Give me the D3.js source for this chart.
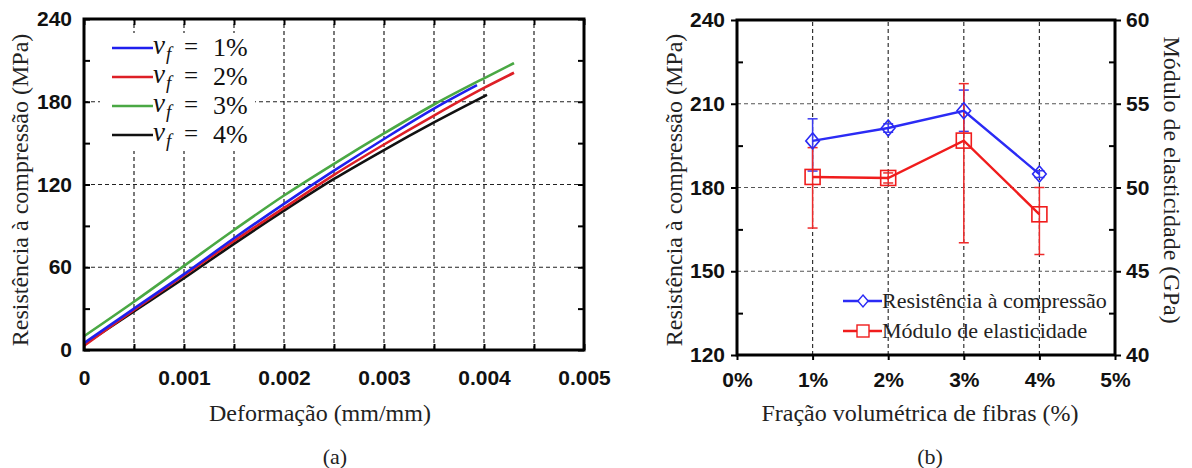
<!DOCTYPE html>
<html>
<head>
<meta charset="utf-8">
<script src="https://cdn.jsdelivr.net/npm/d3@7"></script>
<style>
  body { margin: 0; background: #fff; }
  .tick text { font-family: "Liberation Sans", Arial, sans-serif; font-weight: bold; font-size: 21px; fill: #111; }
  .title { font-family: "Liberation Serif", "Times New Roman", serif; font-size: 24px; fill: #222; }
</style>
</head>
<body>
<script>
// ---------------- data: panel (a) stress-strain curves ----------------
const seriesNames = ["1%", "2%", "3%", "4%"];
const strainVf1 = [0, 0.0005, 0.001, 0.0015, 0.002, 0.0025, 0.003, 0.0035, 0.00393];
const stressVf1 = [5, 30, 55, 81, 106, 130, 153, 175, 192];
const strainVf2 = [0, 0.0005, 0.001, 0.0015, 0.002, 0.0025, 0.003, 0.0035, 0.004, 0.0043];
const stressVf2 = [3, 29, 54, 79, 103, 127, 149, 170, 190, 201];
const strainVf3 = [0, 0.0005, 0.001, 0.0015, 0.002, 0.0025, 0.003, 0.0035, 0.004, 0.0043];
const stressVf3 = [10, 35, 61, 87, 112, 135, 157, 178, 197, 208];
const strainVf4 = [0, 0.0005, 0.001, 0.0015, 0.002, 0.0025, 0.003, 0.0035, 0.00403];
const stressVf4 = [4, 28, 52, 77, 101, 124, 145, 165, 185];
const strainTicks = [0, 0.001, 0.002, 0.003, 0.004, 0.005];
const stressTicks = [0, 60, 120, 180, 240];

// ---------------- data: panel (b) vs fibre fraction ----------------
const fraction = [1, 2, 3, 4];
const strength = [196.7, 201.3, 207.5, 184.8];
const strengthErrHi = [7.9, 1.5, 7.4, 1.2];
const strengthErrLo = [10.8, 1.5, 7.4, 1.2];
const modulus = [50.63, 50.57, 52.8, 48.4];
const modulusErrHi = [1.75, 0.3, 3.4, 1.6];
const modulusErrLo = [3.05, 0.3, 6.1, 2.4];
const fractionTicks = [0, 1, 2, 3, 4, 5];
const strengthTicks = [120, 150, 180, 210, 240];
const modulusTicks = [40, 45, 50, 55, 60];

const colors = ["#1f1fee", "#dd1f26", "#4aa844", "#111111"];

const svg = d3.select("body").append("svg")
    .attr("width", 1192)
    .attr("height", 468);

//============================ PANEL (a) ============================//
const xA = d3.scaleLinear().domain([0, 0.005]).range([84, 584]);
const yA = d3.scaleLinear().domain([0, 240]).range([350, 19]);
const gA = svg.append("g");

// grid
gA.selectAll(".vgrid").data(d3.range(1, 10).map(i => i * 0.0005))
  .enter().append("line")
    .attr("x1", d => xA(d)).attr("x2", d => xA(d))
    .attr("y1", yA(0)).attr("y2", yA(240))
    .attr("stroke", "#222").attr("stroke-width", 1.2).attr("stroke-dasharray", "4,3");
gA.selectAll(".hgrid").data([60, 120, 180])
  .enter().append("line")
    .attr("x1", xA(0)).attr("x2", xA(0.005))
    .attr("y1", d => yA(d)).attr("y2", d => yA(d))
    .attr("stroke", "#222").attr("stroke-width", 1.2).attr("stroke-dasharray", "4,3");

// legend background
gA.append("rect").attr("x", 100).attr("y", 33).attr("width", 155).attr("height", 118).attr("fill", "#fff");

// curves
const curves = [
  [strainVf1, stressVf1], [strainVf2, stressVf2], [strainVf3, stressVf3], [strainVf4, stressVf4]
];
const lineA = d3.line().x(d => xA(d[0])).y(d => yA(d[1])).curve(d3.curveMonotoneX);
// draw order: black, red, blue, green
[3, 1, 0, 2].forEach(function(i) {
  gA.append("path")
    .datum(d3.zip(curves[i][0], curves[i][1]))
    .attr("d", lineA)
    .attr("fill", "none")
    .attr("stroke", colors[i])
    .attr("stroke-width", 2.6);
});

// axes (ticks inside)
const minorX = d3.range(0, 11).map(i => i * 0.0005);
gA.append("g").attr("transform", "translate(0," + yA(0) + ")")
  .call(d3.axisBottom(xA).tickValues(minorX).tickSize(-6).tickPadding(20)
    .tickFormat(d => {
      const k = Math.round(d / 0.0005);
      if (k % 2) return "";
      return k === 0 ? "0" : d3.format(".3f")(d);
    }))
  .call(g => g.select(".domain").remove())
  .call(g => g.selectAll("line").attr("stroke", "#000").attr("stroke-width", 2));
gA.append("g").attr("transform", "translate(0," + yA(240) + ")")
  .call(d3.axisTop(xA).tickValues(minorX).tickSize(-6).tickFormat(""))
  .call(g => g.select(".domain").remove())
  .call(g => g.selectAll("line").attr("stroke", "#000").attr("stroke-width", 2));
gA.append("g").attr("transform", "translate(" + xA(0) + ",0)")
  .call(d3.axisLeft(yA).tickValues(d3.range(0, 241, 30)).tickSize(-6).tickPadding(12)
    .tickFormat(d => stressTicks.includes(d) ? d : ""))
  .call(g => g.select(".domain").remove())
  .call(g => g.selectAll("line").attr("stroke", "#000").attr("stroke-width", 2));
gA.append("g").attr("transform", "translate(" + xA(0.005) + ",0)")
  .call(d3.axisRight(yA).tickValues(d3.range(0, 241, 30)).tickSize(-6).tickFormat(""))
  .call(g => g.select(".domain").remove())
  .call(g => g.selectAll("line").attr("stroke", "#000").attr("stroke-width", 2));

gA.append("rect")
  .attr("x", xA(0)).attr("y", yA(240))
  .attr("width", xA(0.005) - xA(0)).attr("height", yA(0) - yA(240))
  .attr("fill", "none").attr("stroke", "#000").attr("stroke-width", 3);

// legend
seriesNames.forEach(function(name, i) {
  const y = 48 + i * 29;
  gA.append("line").attr("x1", 112).attr("x2", 153).attr("y1", y).attr("y2", y)
    .attr("stroke", colors[i]).attr("stroke-width", 2.6);
  const g = gA.append("g").style("font-family", "'Liberation Serif', serif").attr("fill", "#111");
  g.append("text").attr("x", 153).attr("y", y + 6).style("font-size", "27px").style("font-style", "italic").text("v");
  g.append("text").attr("x", 166).attr("y", y + 12).style("font-size", "19px").style("font-style", "italic").text("f");
  g.append("text").attr("x", 184).attr("y", y + 7).style("font-size", "25px").text("=");
  g.append("text").attr("x", 213).attr("y", y + 8).style("font-size", "26px").text(name);
});

// titles
svg.append("text").attr("class", "title")
  .attr("transform", "translate(20,190) rotate(-90)")
  .attr("text-anchor", "middle").attr("dy", "0.35em")
  .text("Resistência à compressão (MPa)");
svg.append("text").attr("class", "title")
  .attr("x", 320).attr("y", 421).attr("text-anchor", "middle")
  .text("Deformação (mm/mm)");
svg.append("text").attr("class", "title").style("font-size", "22px")
  .attr("x", 335).attr("y", 464).attr("text-anchor", "middle").text("(a)");

//============================ PANEL (b) ============================//
const xB = d3.scaleLinear().domain([0, 5]).range([737, 1115]);
const yB = d3.scaleLinear().domain([120, 240]).range([355, 20]);
const yB2 = d3.scaleLinear().domain([40, 60]).range([355, 20]);
const gB = svg.append("g");

gB.selectAll(".vgrid").data([1, 2, 3, 4])
  .enter().append("line")
    .attr("x1", d => xB(d)).attr("x2", d => xB(d))
    .attr("y1", yB(120)).attr("y2", yB(240))
    .attr("stroke", "#333").attr("stroke-width", 1.2).attr("stroke-dasharray", "4,3");
gB.selectAll(".hgrid").data([150, 180, 210])
  .enter().append("line")
    .attr("x1", xB(0)).attr("x2", xB(5))
    .attr("y1", d => yB(d)).attr("y2", d => yB(d))
    .attr("stroke", "#555").attr("stroke-width", 1.2).attr("stroke-dasharray", "4,3");

// axes
gB.append("g").attr("transform", "translate(0," + yB(120) + ")")
  .call(d3.axisBottom(xB).tickValues(fractionTicks).tickSize(5).tickPadding(12).tickFormat(d => d + "%"))
  .call(g => g.select(".domain").remove())
  .call(g => g.selectAll("line").attr("stroke", "#000").attr("stroke-width", 2));
gB.append("g").attr("transform", "translate(" + xB(0) + ",0)")
  .call(d3.axisLeft(yB).tickValues(strengthTicks).tickSize(6).tickPadding(6))
  .call(g => g.select(".domain").remove())
  .call(g => g.selectAll("line").attr("stroke", "#000").attr("stroke-width", 2));
gB.append("g").attr("transform", "translate(" + xB(0) + ",0)")
  .call(d3.axisLeft(yB).tickValues([135, 165, 195, 225]).tickSize(-6).tickFormat(""))
  .call(g => g.select(".domain").remove())
  .call(g => g.selectAll("line").attr("stroke", "#000").attr("stroke-width", 2));
gB.append("g").attr("transform", "translate(" + xB(5) + ",0)")
  .call(d3.axisRight(yB2).tickValues(modulusTicks).tickSize(6).tickPadding(5))
  .call(g => g.select(".domain").remove())
  .call(g => g.selectAll("line").attr("stroke", "#000").attr("stroke-width", 2));
gB.append("g").attr("transform", "translate(" + xB(5) + ",0)")
  .call(d3.axisRight(yB2).tickValues([42.5, 47.5, 52.5, 57.5]).tickSize(-6).tickFormat(""))
  .call(g => g.select(".domain").remove())
  .call(g => g.selectAll("line").attr("stroke", "#000").attr("stroke-width", 2));

gB.append("rect")
  .attr("x", xB(0)).attr("y", yB(240))
  .attr("width", xB(5) - xB(0)).attr("height", yB(120) - yB(240))
  .attr("fill", "none").attr("stroke", "#000").attr("stroke-width", 3);

// error bars
function errorBars(vals, hi, lo, yScale, color) {
  fraction.forEach(function(f, i) {
    const x = xB(f), y1 = yScale(vals[i] + hi[i]), y2 = yScale(vals[i] - lo[i]);
    gB.append("line").attr("x1", x).attr("x2", x).attr("y1", y1).attr("y2", y2)
      .attr("stroke", color).attr("stroke-width", 1.5);
    [y1, y2].forEach(y => gB.append("line").attr("x1", x - 5).attr("x2", x + 5).attr("y1", y).attr("y2", y)
      .attr("stroke", color).attr("stroke-width", 1.5));
  });
}
errorBars(strength, strengthErrHi, strengthErrLo, yB, "#3a3af0");
errorBars(modulus, modulusErrHi, modulusErrLo, yB2, "#ee2a2a");

const blue = "#2b2bf5", red = "#f01c1c";
gB.append("path").datum(d3.zip(fraction, strength))
  .attr("d", d3.line().x(d => xB(d[0])).y(d => yB(d[1])))
  .attr("fill", "none").attr("stroke", blue).attr("stroke-width", 2.4);
gB.append("path").datum(d3.zip(fraction, modulus))
  .attr("d", d3.line().x(d => xB(d[0])).y(d => yB2(d[1])))
  .attr("fill", "none").attr("stroke", red).attr("stroke-width", 2.4);

function diamond(x, y, r) {
  return "M" + x + "," + (y - r) + "L" + (x + r * 0.85) + "," + y + "L" + x + "," + (y + r) + "L" + (x - r * 0.85) + "," + y + "Z";
}
gB.selectAll(".dia").data(d3.zip(fraction, strength)).enter().append("path")
  .attr("d", d => diamond(xB(d[0]), yB(d[1]), 8))
  .attr("fill", "none").attr("stroke", blue).attr("stroke-width", 1.6);
gB.selectAll(".sq").data(d3.zip(fraction, modulus)).enter().append("rect")
  .attr("x", d => xB(d[0]) - 7.5).attr("y", d => yB2(d[1]) - 7.5)
  .attr("width", 15).attr("height", 15)
  .attr("fill", "none").attr("stroke", red).attr("stroke-width", 1.6);

// legend
const legB = [["Resistência à compressão", blue, "d"], ["Módulo de elasticidade", red, "s"]];
legB.forEach(function(e, i) {
  const y = 301 + i * 30;
  gB.append("line").attr("x1", 843).attr("x2", 882).attr("y1", y).attr("y2", y)
    .attr("stroke", e[1]).attr("stroke-width", 2.4);
  if (e[2] === "d") {
    gB.append("path").attr("d", diamond(863, y, 6)).attr("fill", "#fff").attr("stroke", e[1]).attr("stroke-width", 1.4);
  } else {
    gB.append("rect").attr("x", 857).attr("y", y - 6).attr("width", 12).attr("height", 12)
      .attr("fill", "#fff").attr("stroke", e[1]).attr("stroke-width", 1.4);
  }
  gB.append("text").attr("class", "title").style("font-size", "22px")
    .attr("x", 882).attr("y", y + 7).text(e[0]);
});

svg.append("text").attr("class", "title")
  .attr("transform", "translate(674,190) rotate(-90)")
  .attr("text-anchor", "middle").attr("dy", "0.35em")
  .text("Resistência à compressão (MPa)");
svg.append("text").attr("class", "title")
  .attr("transform", "translate(1172,180) rotate(90)")
  .attr("text-anchor", "middle").attr("dy", "0.35em")
  .text("Módulo de elasticidade (GPa)");
svg.append("text").attr("class", "title")
  .attr("x", 920).attr("y", 421).attr("text-anchor", "middle")
  .text("Fração volumétrica de fibras (%)");
svg.append("text").attr("class", "title").style("font-size", "22px")
  .attr("x", 930).attr("y", 464).attr("text-anchor", "middle").text("(b)");
</script>
</body>
</html>
